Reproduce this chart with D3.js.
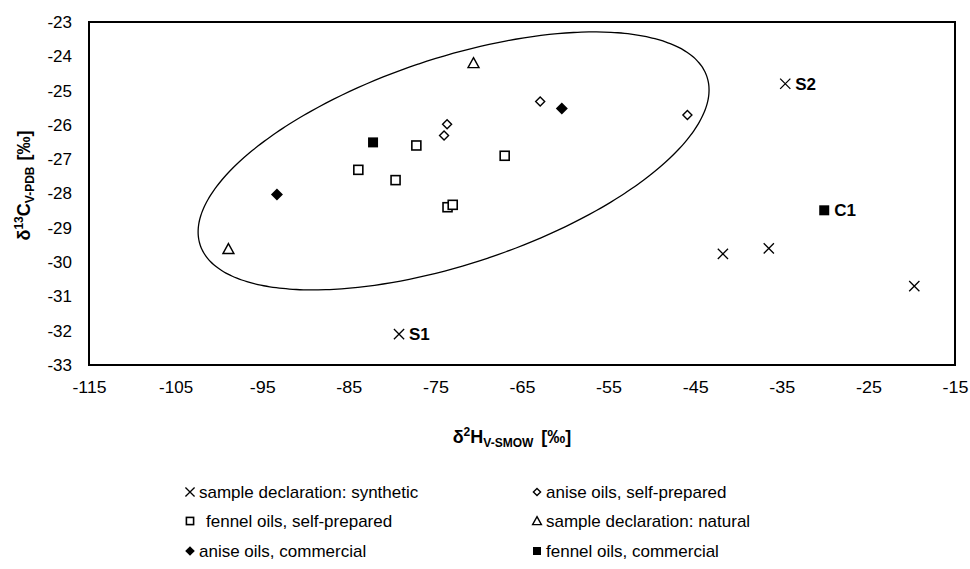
<!DOCTYPE html>
<html lang="en">
<head>
  <meta charset="UTF-8">
  <title>isotope scatter</title>
  <style>
    body { margin: 0; background: #fff; }
    svg { font-family: "Liberation Sans", Arial, sans-serif; }
  </style>
</head>
<body>
  <div class="chart"></div>
  <script src="https://cdnjs.cloudflare.com/ajax/libs/d3/7.8.5/d3.min.js"></script>
  <script>
    // d2H (x) and d13C (y) per group
    const synthX = [-79.2, -34.6, -41.8, -36.5, -19.7];
    const synthY = [-32.1, -24.8, -29.76, -29.6, -30.7];
    const synthLabels = ["S1", "S2", "", "", ""];

    const aniseSelfX = [-62.9, -45.9, -73.65, -74.0];
    const aniseSelfY = [-25.32, -25.71, -25.98, -26.31];

    const fennelSelfX = [-77.2, -83.9, -79.6, -67.0, -73.6, -73.0];
    const fennelSelfY = [-26.6, -27.31, -27.61, -26.9, -28.4, -28.33];

    const naturalX = [-98.9, -70.6];
    const naturalY = [-29.62, -24.2];

    const aniseComX = [-60.4, -93.3];
    const aniseComY = [-25.52, -28.03];

    const fennelComX = [-82.2, -30.1];
    const fennelComY = [-26.51, -28.49];
    const fennelComLabels = ["", "C1"];

    // ellipse: centre and two conjugate half-axes, data units
    const ellipseCentre = [-72.9, -27.05];
    const ellipseAxisA = [29.5, 2.07];
    const ellipseAxisB = [0, 3.14];

    const xTicks = [-115, -105, -95, -85, -75, -65, -55, -45, -35, -25, -15];
    const yTicks = [-23, -24, -25, -26, -27, -28, -29, -30, -31, -32, -33];

    const legendNames = [
      "sample declaration: synthetic", "anise oils, self-prepared",
      "fennel oils, self-prepared", "sample declaration: natural",
      "anise oils, commercial", "fennel oils, commercial"
    ];
    const legendShapes = ["cross", "diamondOpen", "squareOpen", "triangle", "diamondFilled", "squareFilled"];

    const width = 970, height = 569;
    const plot = { left: 89, top: 22, right: 955, bottom: 365 };

    const x = d3.scaleLinear().domain([-115, -15]).range([plot.left, plot.right]);
    const y = d3.scaleLinear().domain([-33, -23]).range([plot.bottom, plot.top]);

    const svg = d3.select('.chart').append('svg')
      .attr('width', width)
      .attr('height', height);

    // frame
    svg.append('rect')
      .attr('x', plot.left).attr('y', plot.top)
      .attr('width', plot.right - plot.left)
      .attr('height', plot.bottom - plot.top)
      .attr('fill', 'none').attr('stroke', '#000').attr('stroke-width', 2);

    const plainNum = d => String(d); // keep the hyphen minus of the original

    const xAxis = svg.append('g')
      .attr('transform', `translate(0,${plot.bottom})`)
      .call(d3.axisBottom(x).tickValues(xTicks).tickSize(0).tickPadding(16).tickFormat(plainNum));
    xAxis.select('.domain').remove();
    xAxis.selectAll('text')
      .attr('font-size', 17)
      .attr('fill', '#000')
      .attr('textLength', 34)
      .attr('lengthAdjust', 'spacingAndGlyphs');
    xAxis.selectAll('text').filter(d => d > -100).attr('textLength', 26);

    const yAxis = svg.append('g')
      .attr('transform', `translate(${plot.left},0)`)
      .call(d3.axisLeft(y).tickValues(yTicks).tickSize(0).tickPadding(17).tickFormat(plainNum));
    yAxis.select('.domain').remove();
    yAxis.selectAll('text').attr('font-size', 17).attr('fill', '#000');

    // axis titles
    const xTitle = svg.append('text')
      .attr('x', 512).attr('y', 443)
      .attr('text-anchor', 'middle')
      .attr('font-weight', 'bold')
      .attr('font-size', 18);
    xTitle.append('tspan').text('δ');
    xTitle.append('tspan').attr('font-size', 12).attr('dy', -7).text('2');
    xTitle.append('tspan').attr('dy', 7).text('H');
    xTitle.append('tspan').attr('font-size', 12).attr('dy', 4).text('V-SMOW');
    xTitle.append('tspan').attr('dy', -4).attr('dx', 8).text('[‰]');

    const yTitle = svg.append('text')
      .attr('transform', `translate(30,${(plot.top + plot.bottom) / 2 - 8}) rotate(-90)`)
      .attr('text-anchor', 'middle')
      .attr('font-weight', 'bold')
      .attr('font-size', 18);
    yTitle.append('tspan').text('δ');
    yTitle.append('tspan').attr('font-size', 12).attr('dy', -7).text('13');
    yTitle.append('tspan').attr('dy', 7).text('C');
    yTitle.append('tspan').attr('font-size', 12).attr('dy', 4).text('V-PDB');
    yTitle.append('tspan').attr('dy', -4).attr('dx', 6).text('[‰]');

    // ellipse
    const ts = d3.range(0, 361, 2).map(d => d * Math.PI / 180);
    const ellipseLine = d3.line()
      .x(t => x(ellipseCentre[0] + ellipseAxisA[0] * Math.cos(t) + ellipseAxisB[0] * Math.sin(t)))
      .y(t => y(ellipseCentre[1] + ellipseAxisA[1] * Math.cos(t) + ellipseAxisB[1] * Math.sin(t)))
      .curve(d3.curveCatmullRomClosed);
    svg.append('path')
      .datum(ts)
      .attr('d', ellipseLine)
      .attr('fill', 'none')
      .attr('stroke', '#000')
      .attr('stroke-width', 1.3);

    // marker drawing
    function drawMarker(g, shape, scale) {
      const s = scale || 1;
      if (shape === 'cross') {
        g.append('path').attr('d', d3.symbol(d3.symbolX, 70 * s)())
          .attr('fill', 'none').attr('stroke', '#000').attr('stroke-width', 1.3);
      } else if (shape === 'squareOpen') {
        g.append('rect').attr('x', -4.5 * s).attr('y', -4.5 * s).attr('width', 9 * s).attr('height', 9 * s)
          .attr('fill', '#fff').attr('stroke', '#000').attr('stroke-width', 1.6);
      } else if (shape === 'squareFilled') {
        g.append('rect').attr('x', -5 * s).attr('y', -5 * s).attr('width', 10 * s).attr('height', 10 * s)
          .attr('fill', '#000');
      } else if (shape === 'diamondOpen') {
        g.append('path').attr('d', `M0,${-4.5 * s}L${4.5 * s},0L0,${4.5 * s}L${-4.5 * s},0Z`)
          .attr('fill', '#fff').attr('stroke', '#000').attr('stroke-width', 1.4);
      } else if (shape === 'diamondFilled') {
        g.append('path').attr('d', `M0,${-6 * s}L${6 * s},0L0,${6 * s}L${-6 * s},0Z`)
          .attr('fill', '#000');
      } else if (shape === 'triangle') {
        g.append('path').attr('d', `M0,${-5.5 * s}L${5.5 * s},${4.5 * s}L${-5.5 * s},${4.5 * s}Z`)
          .attr('fill', 'none').attr('stroke', '#000').attr('stroke-width', 1.4);
      }
    }

    const groups = [
      { xs: synthX, ys: synthY, shape: 'cross', labels: synthLabels },
      { xs: fennelSelfX, ys: fennelSelfY, shape: 'squareOpen' },
      { xs: aniseSelfX, ys: aniseSelfY, shape: 'diamondOpen' },
      { xs: naturalX, ys: naturalY, shape: 'triangle' },
      { xs: aniseComX, ys: aniseComY, shape: 'diamondFilled' },
      { xs: fennelComX, ys: fennelComY, shape: 'squareFilled', labels: fennelComLabels }
    ];

    groups.forEach(grp => {
      grp.xs.forEach((vx, i) => {
        const g = svg.append('g').attr('transform', `translate(${x(vx)},${y(grp.ys[i])})`);
        drawMarker(g, grp.shape);
        const lab = grp.labels ? grp.labels[i] : '';
        if (lab) {
          g.append('text')
            .attr('x', 10).attr('y', 6)
            .attr('font-weight', 'bold')
            .attr('font-size', 17)
            .text(lab);
        }
      });
    });

    // legend
    const legendCols = [190, 537];
    const legendRows = [492, 521, 551];
    legendNames.forEach((name, i) => {
      const g = svg.append('g')
        .attr('transform', `translate(${legendCols[i % 2]},${legendRows[Math.floor(i / 2)]})`);
      drawMarker(g, legendShapes[i], 0.8);
      g.append('text')
        .attr('x', legendShapes[i] === 'squareOpen' ? 16 : 9)
        .attr('y', 6)
        .attr('font-size', 17)
        .text(name);
    });
  </script>
</body>
</html>
